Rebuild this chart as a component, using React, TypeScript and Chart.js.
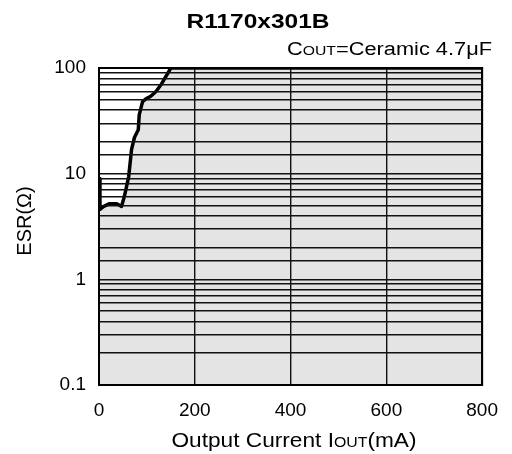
import React, { useEffect, useRef } from "react";
import { Chart, registerables } from "chart.js";

Chart.register(...registerables);

// ---- data ----
const IOUT_MA = [2, 2, 10, 22, 37, 47, 53, 62, 68, 74, 82, 84, 91, 98, 108, 119, 129, 150, 800];
const ESR_OHM = [9, 4.6, 4.9, 5.2, 5.2, 4.9, 6.1, 9.4, 17, 22, 26, 36, 48, 51, 54, 60, 69, 100, 100];
const X_TICKS = [0, 200, 400, 600, 800];
const Y_TICK_VALUES = [0.1, 1, 10, 100];
const Y_TICK_LABELS = ["0.1", "1", "10", "100"];
const TITLE = "R1170x301B";
const NOTE_PARTS = ["C", "OUT", "=Ceramic 4.7\u03BCF"];
const X_TITLE_PARTS = ["Output Current I", "OUT", "(mA)"];
const Y_TITLE = "ESR(\u03A9)";

const FONT = "'Liberation Sans', Arial, sans-serif";

type Seg = { t: string; size: number; bold?: boolean };

function drawRich(
  ctx: CanvasRenderingContext2D,
  segs: Seg[],
  x: number,
  y: number,
  align: "left" | "center" | "right",
  targetWidth?: number
) {
  ctx.save();
  ctx.textBaseline = "alphabetic";
  ctx.textAlign = "left";
  ctx.fillStyle = "#000";
  let natural = 0;
  for (const s of segs) {
    ctx.font = `${s.bold ? "bold " : ""}${s.size}px ${FONT}`;
    natural += ctx.measureText(s.t).width;
  }
  const sx = targetWidth ? targetWidth / natural : 1;
  const w = natural * sx;
  const x0 = align === "left" ? x : align === "center" ? x - w / 2 : x - w;
  ctx.translate(x0, y);
  ctx.scale(sx, 1);
  let cx = 0;
  for (const s of segs) {
    ctx.font = `${s.bold ? "bold " : ""}${s.size}px ${FONT}`;
    ctx.fillText(s.t, cx, 0);
    cx += ctx.measureText(s.t).width;
  }
  ctx.restore();
}

const textPlugin = {
  id: "texts",
  afterDraw(chart: any) {
    const { ctx, chartArea } = chart;
    // frame
    ctx.save();
    ctx.strokeStyle = "#000";
    ctx.lineWidth = 2;
    ctx.strokeRect(chartArea.left, chartArea.top, chartArea.right - chartArea.left, chartArea.bottom - chartArea.top);
    ctx.restore();
    drawRich(ctx, [{ t: TITLE, size: 20, bold: true }], 258, 28, "center", 143);
    drawRich(
      ctx,
      [
        { t: NOTE_PARTS[0], size: 18 },
        { t: NOTE_PARTS[1], size: 13 },
        { t: NOTE_PARTS[2], size: 18 },
      ],
      492,
      55,
      "right",
      205
    );
    drawRich(
      ctx,
      [
        { t: X_TITLE_PARTS[0], size: 20 },
        { t: X_TITLE_PARTS[1], size: 14 },
        { t: X_TITLE_PARTS[2], size: 20 },
      ],
      294,
      447,
      "center",
      245
    );
    ctx.save();
    ctx.translate(31, 221);
    ctx.rotate(-Math.PI / 2);
    drawRich(ctx, [{ t: Y_TITLE, size: 20 }], 0, 0, "center");
    ctx.restore();
  },
};

export default function App() {
  const ref = useRef<HTMLCanvasElement | null>(null);
  useEffect(() => {
    if (!ref.current) return;
    const chart = new Chart(ref.current, {
      type: "line",
      data: {
        datasets: [
          {
            data: IOUT_MA.map((x, i) => ({ x, y: ESR_OHM[i] })),
            borderColor: "#000",
            borderWidth: 3.5,
            backgroundColor: "#e4e4e4",
            fill: "start",
            pointRadius: 0,
            tension: 0,
            borderJoinStyle: "round",
            borderCapStyle: "round",
          },
        ],
      },
      options: {
        animation: false,
        responsive: true,
        maintainAspectRatio: false,
        layout: { padding: { top: 68, right: 24, left: 0, bottom: 0 } },
        plugins: { legend: { display: false }, title: { display: false }, tooltip: { enabled: false } },
        scales: {
          x: {
            type: "linear",
            min: 0,
            max: 800,
            afterBuildTicks: (s: any) => {
              s.ticks = X_TICKS.map((v) => ({ value: v }));
            },
            afterFit: (s: any) => {
              s.height = 69;
            },
            grid: { color: "#111", lineWidth: 1.4, drawTicks: false, z: 1 },
            border: { display: true, color: "#000", width: 2, z: 1 },
            ticks: {
              color: "#000",
              padding: 14,
              font: { family: FONT, size: 19 },
              callback: (v: any) => String(v),
            },
          },
          y: {
            type: "logarithmic",
            min: 0.1,
            max: 100,
            afterFit: (s: any) => {
              s.width = 99;
            },
            grid: { color: "#111", lineWidth: 1.4, drawTicks: false, z: 1 },
            border: { display: true, color: "#000", width: 2, z: 1 },
            ticks: {
              color: "#000",
              padding: 13,
              autoSkip: false,
              font: { family: FONT, size: 19 },
              callback: (v: any) => {
                const n = Number(v);
                const i = Y_TICK_VALUES.findIndex((t) => Math.abs(t - n) / t < 1e-6);
                return i >= 0 ? Y_TICK_LABELS[i] : "";
              },
            },
          },
        },
      },
      plugins: [textPlugin],
    } as any);
    return () => chart.destroy();
  }, []);
  return (
    <div style={{ position: "fixed", left: 0, top: 0, width: 512, height: 454, background: "#fff" }}>
      <canvas ref={ref} />
    </div>
  );
}
